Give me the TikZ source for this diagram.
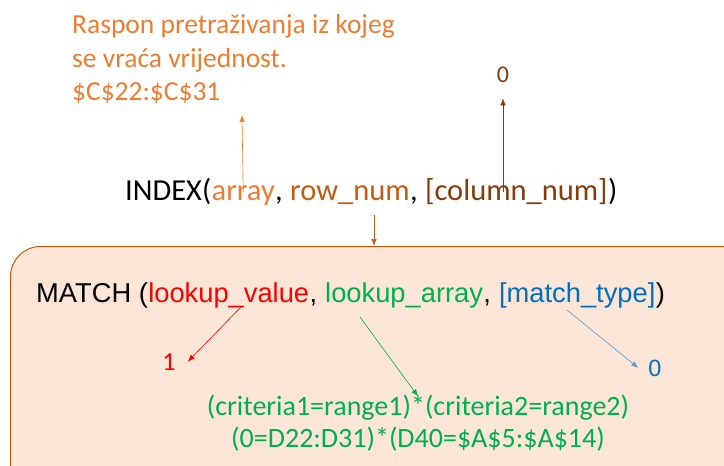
\documentclass[tikz,border=0pt]{standalone}
\usepackage{fontspec}
\setmainfont{Carlito}
\newfontfamily\arialfont{Liberation Sans}
\definecolor{idxorange}{RGB}{237,125,49}
\definecolor{idxrust}{RGB}{197,90,17}
\definecolor{idxbrown}{RGB}{132,60,12}
\definecolor{boxfill}{RGB}{251,229,214}
\definecolor{mtred}{RGB}{255,0,0}
\definecolor{mtgreen}{RGB}{0,176,80}
\definecolor{mtblue}{RGB}{0,112,192}
\definecolor{mtlightblue}{RGB}{91,155,213}
\usetikzlibrary{arrows.meta,positioning}

\begin{document}
\begin{tikzpicture}[
  x=1pt, y=-1pt,
  seg/.style={
    inner sep=0pt, anchor=base west,
    text height=0.75em, text depth=0.25em
  },
  idxfont/.style={font=\fontsize{30.5}{37}\selectfont},
  notefont/.style={font=\fontsize{27.5}{33}\selectfont},
  mtfont/.style={font=\arialfont\fontsize{27.3}{33}\selectfont},
  critfont/.style={font=\fontsize{28}{33}\selectfont},
  pointer/.style={-{Latex[length=7pt,width=5.5pt]}, line width=0.6pt}
]
\useasboundingbox (0,0) rectangle (724,466);
\clip (0,0) rectangle (724,466);

% box round MATCH
\node[draw=idxrust, fill=boxfill, line width=1pt, rounded corners=30pt,
  minimum width=780pt, minimum height=260pt, inner sep=0pt,
  anchor=north west] (matchbox) at (10,246) {};

% note on array
\node[seg, notefont, text=idxorange] (note1) at (72,33)  {Raspon pretraživanja iz kojeg};
\node[seg, notefont, text=idxorange] (note2) at (72,67)  {se vraća vrijednost.};
\node[seg, notefont, text=idxorange] (note3) at (72,100) {\$C\$22:\$C\$31};

\node[seg, anchor=base, font=\fontsize{24}{29}\selectfont, text=idxbrown,
  text height=, text depth=] (colval) at (503,82) {0};

% INDEX line
\node[seg, idxfont] (idx) at (125,200) {INDEX(};
\node[seg, idxfont, text=idxorange] (arr)  at (idx.base east)  {array};
\node[seg, idxfont] (cm1)    at (arr.base east)  {,\kern0.23em};
\node[seg, idxfont, text=idxrust]  (rown) at (cm1.base east)  {row\_num};
\node[seg, idxfont] (cm2)    at (rown.base east) {,\kern0.23em};
\node[seg, idxfont, text=idxbrown] (coln) at (cm2.base east)  {[column\_num]};
\node[seg, idxfont] (idxend) at (coln.base east) {)};

% MATCH line
\node[seg, mtfont] (mt) at (36,302) {MATCH (};
\node[seg, mtfont, text=mtred]   (lval) at (mt.base east)   {lookup\_value};
\node[seg, mtfont] (cm3)   at (lval.base east) {,\kern0.28em};
\node[seg, mtfont, text=mtgreen] (larr) at (cm3.base east)  {lookup\_array};
\node[seg, mtfont] (cm4)   at (larr.base east) {,\kern0.28em};
\node[seg, mtfont, text=mtblue]  (mtyp) at (cm4.base east)  {[match\_type]};
\node[seg, mtfont] (mtend) at (mtyp.base east) {)};

% results
\node[seg, anchor=base, font=\fontsize{26}{31}\selectfont, text=mtred,
  text height=, text depth=] (one) at (169,370) {1};
\node[seg, anchor=base, font=\arialfont\fontsize{23.5}{28}\selectfont, text=mtblue,
  text height=, text depth=] (zero) at (655,376) {0};
\node[seg, anchor=base, critfont, text=mtgreen] (crit1) at (418,415)
  {(criteria1=range1)*(criteria2=range2)};
\node[seg, anchor=base, critfont, text=mtgreen] (crit2) at (418,447)
  {(0=D22:D31)*(D40=\$A\$5:\$A\$14)};

% arrows
\coordinate (arrtop) at (242,115);
\coordinate (rowfoot) at (374,215);
\coordinate (lvfoot) at (242,306);
\coordinate (lafoot) at (360,317);
\coordinate (mtfoot) at (567,310);

\draw[pointer, idxorange] (arr.north) -- (arrtop);
\draw[pointer, idxbrown] (coln.north -| colval) -- ([yshift=-16pt]colval.south);
\draw[pointer, idxrust] (rowfoot) -- (rowfoot |- matchbox.north);
\draw[pointer, mtred] (lvfoot) -- ([xshift=12pt]one.east);
\draw[pointer, mtgreen] (lafoot) -- ([yshift=11pt]crit1.north);
\draw[pointer, mtlightblue] (mtfoot) -- ([xshift=-10pt]zero.west);
\end{tikzpicture}
\end{document}
